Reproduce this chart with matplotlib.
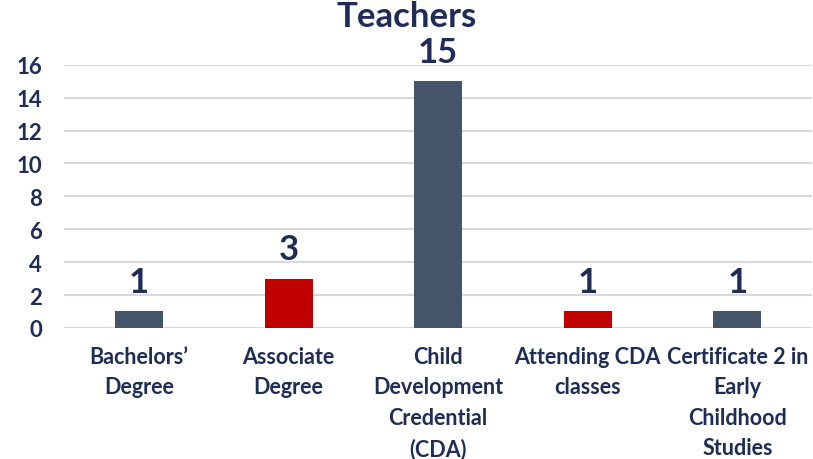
import matplotlib.pyplot as plt

categories = ["Bachelors’\nDegree", "Associate\nDegree", "Child\nDevelopment\nCredential\n(CDA)",
              "Attending CDA\nclasses", "Certificate 2 in\nEarly\nChildhood\nStudies"]
values = [1, 3, 15, 1, 1]
colors = ["#44546A", "#C00000", "#44546A", "#C00000", "#44546A"]

navy = "#1F2D56"
plt.rcParams['font.family'] = ['Lato', 'DejaVu Sans']

fig = plt.figure(figsize=(8.13, 4.6), dpi=100)
ax = fig.add_axes([0.079, 0.285, 0.92, 0.572])

x = range(len(values))
ax.bar(x, values, width=0.32, color=colors, zorder=3)
for xi, v in zip(x, values):
    ax.text(xi, v + 0.8, str(v), ha='center', va='bottom', fontsize=25,
            fontweight='bold', color=navy)

ax.set_xlim(-0.5, len(values) - 0.5)
ax.set_ylim(0, 16)
ax.set_yticks(range(0, 17, 2))
ax.yaxis.grid(True, color="#D9D9D9", linewidth=1.5, zorder=0)
ax.set_xticks(list(x))
ax.set_xticklabels(categories, fontsize=15.5, fontweight='bold', color=navy,
                   linespacing=1.55, va='top')
for lbl in ax.get_yticklabels():
    lbl.set_fontsize(16)
    lbl.set_fontweight('bold')
    lbl.set_color(navy)
ax.tick_params(axis='both', length=0)
ax.tick_params(axis='x', pad=13)
ax.tick_params(axis='y', pad=16)
for s in ax.spines.values():
    s.set_visible(False)

fig.text(0.5, 0.962, "Teachers", ha='center', va='center', fontsize=25,
         fontweight='bold', color=navy)

fig.savefig("out.png", dpi=100)
